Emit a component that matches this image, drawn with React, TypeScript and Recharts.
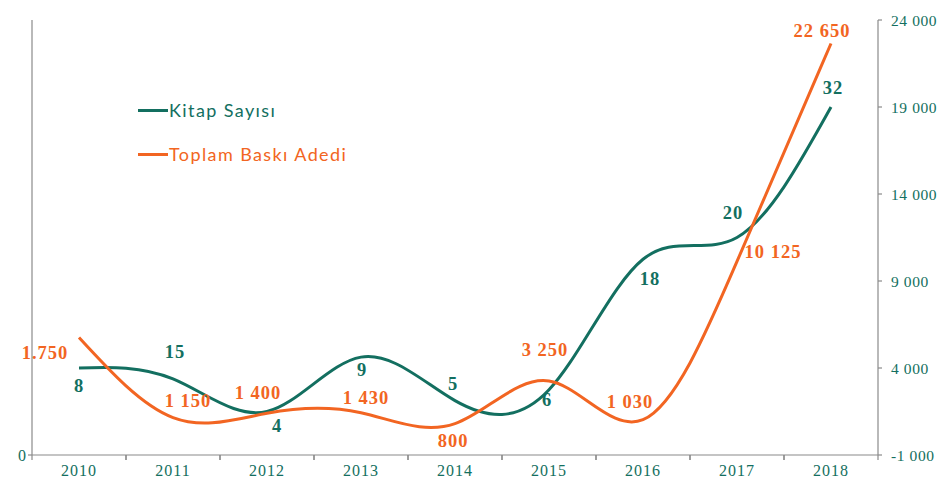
import React from 'react';
import {
  LineChart,
  Line,
  XAxis,
  YAxis,
  LabelList,
} from 'recharts';

const TEAL = '#136f60';
const ORANGE = '#f26522';
const AXIS = '#8a8a8a';

const years = ['2010', '2011', '2012', '2013', '2014', '2015', '2016', '2017', '2018'];
// values as drawn in the picture (left axis)
const kitapValues = [8, 7, 4, 9, 5, 6, 18, 20, 32];
const kitapLabels = ['8', '15', '4', '9', '5', '6', '18', '20', '32'];
// values as drawn in the picture (right axis)
const baskiValues = [5750, 1150, 1400, 1430, 800, 3250, 1030, 10125, 22650];
const baskiLabels = ['1.750', '1 150', '1 400', '1 430', '800', '3 250', '1 030', '10 125', '22 650'];
const rightTicks = [-1000, 4000, 9000, 14000, 19000, 24000];

const data = years.map((year, i) => ({
  year,
  kitap: kitapValues[i],
  baski: baskiValues[i],
}));

// label placement relative to each point
const kitapOffsets = [[0, 18], [2, -27], [10, 14], [1, 12], [-2, -17], [-2, 10], [7, 19], [-4, -25], [2, -19]];
const baskiOffsets = [[-34, 15], [15, -17], [-9, -21], [5, -15], [-2, 17], [-4, -32], [-13, -18], [36, -10], [-9, -13]];

const fmtThousands = (v: number) => {
  const s = Math.abs(v).toString().replace(/\B(?=(\d{3})+(?!\d))/g, ' ');
  return v < 0 ? '-' + s : s;
};

const makeLabel = (labels: string[], offsets: number[][], color: string) => (props: any) => {
  const { x, y, index } = props;
  const [dx, dy] = offsets[index];
  return (
    <text
      x={x + dx}
      y={y + dy}
      dy="0.35em"
      textAnchor="middle"
      fill={color}
      fontSize={18.5}
      fontWeight="bold"
      letterSpacing={1}
      fontFamily="'Liberation Serif', 'Times New Roman', serif"
    >
      {labels[index]}
    </text>
  );
};

const YearTick = (props: any) => {
  const { x, y, payload } = props;
  const half = payload.offset || 47;
  return (
    <g>
      <line x1={x - half} y1={y - 8} x2={x - half} y2={y - 3} stroke={AXIS} strokeWidth={1.2} />
      <line x1={x + half} y1={y - 8} x2={x + half} y2={y - 3} stroke={AXIS} strokeWidth={1.2} />
      <text
        x={x}
        y={y + 13}
        textAnchor="middle"
        fill={TEAL}
        fontSize={16}
        letterSpacing={1}
        fontFamily="'Liberation Serif', 'Times New Roman', serif"
      >
        {payload.value}
      </text>
    </g>
  );
};

const LegendBox = () => (
  <div style={{ position: 'absolute', left: 138, top: 98, fontFamily: 'Lato, sans-serif', fontSize: 18, letterSpacing: 1.4 }}>
    {[
      { name: 'Kitap Sayısı', color: TEAL },
      { name: 'Toplam Baskı Adedi', color: ORANGE },
    ].map((item, i) => (
      <div key={item.name} style={{ display: 'flex', alignItems: 'center', height: 24, marginBottom: i === 0 ? 20 : 0 }}>
        <span style={{ display: 'inline-block', width: 30, height: 3, background: item.color, marginRight: 1 }} />
        <span style={{ color: item.color }}>{item.name}</span>
      </div>
    ))}
  </div>
);

export default function App() {
  return (
    <div style={{ position: 'absolute', left: 0, top: 0, width: 941, height: 483, background: '#fff' }}>
      <LineChart
        width={941}
        height={483}
        data={data}
        margin={{ top: 20, right: 0, left: 0, bottom: 0 }}
      >
        <XAxis
          dataKey="year"
          scale="band"
          height={28}
          stroke={AXIS}
          strokeWidth={1.2}
          tickLine={false}
          interval={0}
          tick={<YearTick />}
        />
        <YAxis
          yAxisId="left"
          orientation="left"
          width={32}
          domain={[0, 40]}
          ticks={[0]}
          stroke={AXIS}
          strokeWidth={1.2}
          tickSize={4}
          tick={{ fill: TEAL, fontSize: 16, fontFamily: "'Liberation Serif', serif" }}
        />
        <YAxis
          yAxisId="right"
          orientation="right"
          width={63}
          domain={[-1000, 24000]}
          ticks={rightTicks}
          tickFormatter={fmtThousands}
          stroke={AXIS}
          strokeWidth={1.2}
          tickSize={4}
          tickMargin={9}
          tick={{ fill: TEAL, fontSize: 15.5, letterSpacing: 0.6, fontFamily: "'Liberation Serif', serif" }}
        />
        <Line
          yAxisId="left"
          type="natural"
          dataKey="kitap"
          stroke={TEAL}
          strokeWidth={3}
          dot={false}
          activeDot={false}
          isAnimationActive={false}
        >
          <LabelList dataKey="kitap" content={makeLabel(kitapLabels, kitapOffsets, TEAL)} />
        </Line>
        <Line
          yAxisId="right"
          type="natural"
          dataKey="baski"
          stroke={ORANGE}
          strokeWidth={3}
          dot={false}
          activeDot={false}
          isAnimationActive={false}
        >
          <LabelList dataKey="baski" content={makeLabel(baskiLabels, baskiOffsets, ORANGE)} />
        </Line>
      </LineChart>
      <LegendBox />
    </div>
  );
}
